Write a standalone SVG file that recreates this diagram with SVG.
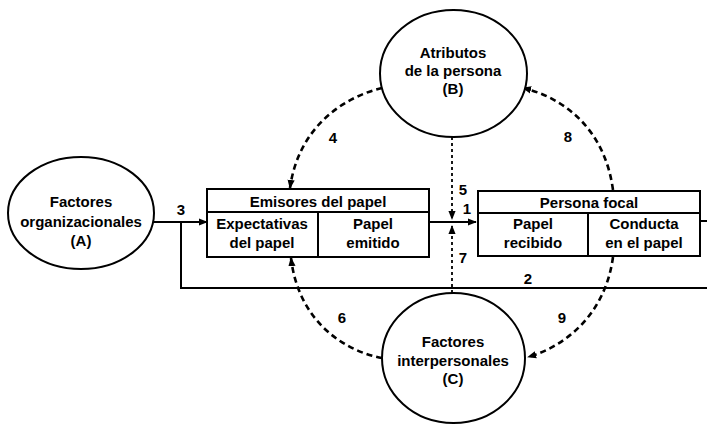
<svg xmlns="http://www.w3.org/2000/svg" width="707" height="424" viewBox="0 0 707 424">
  <defs>
    <marker id="arrow" viewBox="0 0 10 10" refX="9" refY="5" markerWidth="9" markerHeight="9" markerUnits="userSpaceOnUse" orient="auto">
      <path d="M0,1 L10,5 L0,9 Z" fill="#000"/>
    </marker>
    <style>
      .shape { fill: #fff; stroke: #000; stroke-width: 2; }
      .line { fill: none; stroke: #000; stroke-width: 2; }
      .dash { fill: none; stroke: #000; stroke-width: 2.6; stroke-dasharray: 6 4; }
      .dot { fill: none; stroke: #000; stroke-width: 1.8; stroke-dasharray: 3 3; }
      text { font-family: "Liberation Sans", Arial, sans-serif; font-weight: bold; font-size: 15px; fill: #000; text-anchor: middle; }
      .num { font-size: 15px; }
    </style>
  </defs>

  <rect width="707" height="424" fill="#fff"/>

  <!-- connectors -->
  <g id="connectors">
    <!-- 3: organizational factors to role senders -->
    <line class="line" x1="153" y1="222" x2="207" y2="222" marker-end="url(#arrow)"/>
    <!-- 2: feedback line running under both boxes -->
    <path class="line" d="M181,222 V288 H707"/>
    <!-- 1: sent role to received role -->
    <line class="line" x1="429" y1="222" x2="476" y2="222" marker-end="url(#arrow)"/>
    <!-- output from role behaviour -->
    <line class="line" x1="700" y1="221" x2="707" y2="221"/>
    <!-- 5 and 7: influences acting on the transmission -->
    <line class="dot" x1="452" y1="137" x2="452" y2="219" marker-end="url(#arrow)"/>
    <line class="dot" x1="452" y1="293" x2="452" y2="226" marker-end="url(#arrow)"/>
    <!-- 4: person attributes to role senders -->
    <path class="dash" d="M382,88 C340,98 298,130 290,188" marker-end="url(#arrow)"/>
    <!-- 8: focal person back to attributes -->
    <path class="dash" d="M613,190 C605,130 565,98 523,88" marker-end="url(#arrow)"/>
    <!-- 6: interpersonal factors to role senders -->
    <path class="dash" d="M382,358 C340,350 298,318 291,258" marker-end="url(#arrow)"/>
    <!-- 9: focal person to interpersonal factors -->
    <path class="dash" d="M613,257 C606,310 570,345 528,357" marker-end="url(#arrow)"/>

    <text class="num" x="181" y="215">3</text>
    <text class="num" x="467" y="214">1</text>
    <text class="num" x="528" y="284">2</text>
    <text class="num" x="333" y="143">4</text>
    <text class="num" x="463" y="195">5</text>
    <text class="num" x="342" y="323">6</text>
    <text class="num" x="463" y="263">7</text>
    <text class="num" x="568" y="142">8</text>
    <text class="num" x="562" y="323">9</text>
  </g>

  <!-- A: organizational factors -->
  <g id="nodeA">
    <ellipse class="shape" cx="81" cy="213" rx="73" ry="56"/>
    <text x="81" y="207">Factores</text>
    <text x="81" y="227">organizacionales</text>
    <text x="81" y="246">(A)</text>
  </g>

  <!-- B: attributes of the person -->
  <g id="nodeB">
    <ellipse class="shape" cx="453.5" cy="73.5" rx="73.5" ry="63.5"/>
    <text x="453" y="58">Atributos</text>
    <text x="453" y="76">de la persona</text>
    <text x="453" y="94">(B)</text>
  </g>

  <!-- C: interpersonal factors -->
  <g id="nodeC">
    <ellipse class="shape" cx="453.5" cy="358" rx="71.5" ry="65"/>
    <text x="453" y="347">Factores</text>
    <text x="453" y="366">interpersonales</text>
    <text x="453" y="384">(C)</text>
  </g>

  <!-- role senders -->
  <g id="senders">
    <rect class="shape" x="207" y="189" width="222" height="68"/>
    <line class="line" x1="207" y1="212" x2="429" y2="212"/>
    <line class="line" x1="318" y1="212" x2="318" y2="257"/>
    <text x="318" y="207">Emisores del papel</text>
    <text x="262" y="229">Expectativas</text>
    <text x="262" y="248">del papel</text>
    <text x="373" y="229">Papel</text>
    <text x="373" y="248">emitido</text>
  </g>

  <!-- focal person -->
  <g id="focal">
    <rect class="shape" x="478" y="191" width="222" height="65"/>
    <line class="line" x1="478" y1="213" x2="700" y2="213"/>
    <line class="line" x1="588" y1="213" x2="588" y2="256"/>
    <text x="589" y="208">Persona focal</text>
    <text x="533" y="229">Papel</text>
    <text x="533" y="248">recibido</text>
    <text x="644" y="229">Conducta</text>
    <text x="644" y="248">en el papel</text>
  </g>
</svg>
